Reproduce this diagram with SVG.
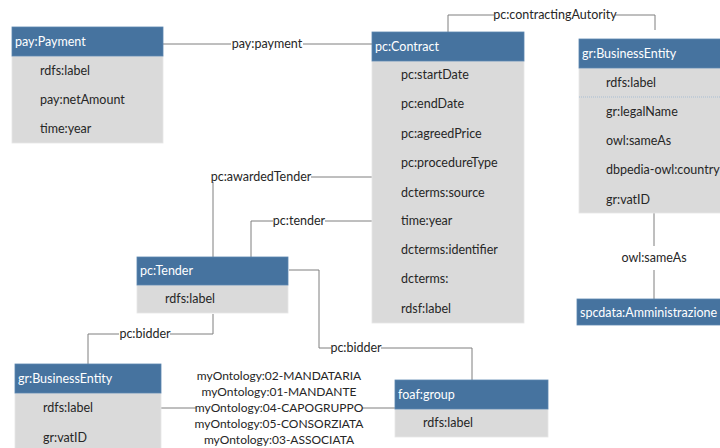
<svg xmlns="http://www.w3.org/2000/svg" width="720" height="448" viewBox="0 0 720 448">
<style>
.hd{fill:#46739f;stroke:#5b86b0;stroke-width:0.8}
.bd{fill:#dadada;stroke:#e6e6e6;stroke-width:0.8}
.ht{font-family:Lato,"Liberation Sans",sans-serif;font-size:12.5px;fill:#ffffff}
.t{font-family:Lato,"Liberation Sans",sans-serif;font-size:12.5px;fill:#262626}
.c{fill:none;stroke:#7f7f7f;stroke-width:1}
.lb{font-family:Lato,"Liberation Sans",sans-serif;font-size:12.5px;fill:#262626}
.st{font-family:Lato,"Liberation Sans",sans-serif;font-size:12px;fill:#262626}
.sep{stroke:#9db6d0;stroke-width:0.8;stroke-dasharray:1 1}
</style>
<rect width="720" height="448" fill="#ffffff"/>
<g id="connectors">
<path class="c" d="M163 44H231M303 44H372"/>
<path class="c" d="M448 32V15H494M615 15H655V30"/>
<path class="c" d="M213 257V182M311 177H372"/>
<path class="c" d="M251 257V221H273M325 221H372"/>
<path class="c" d="M289 270H319V348H331M381 348H472V380"/>
<path class="c" d="M213 314V334H170M119 334H88V364"/>
<path class="c" d="M654 213V246M654 270V299"/>
<path class="c" d="M161 408H196M362 408H395"/>
<text class="lb" x="267" y="48" text-anchor="middle">pay:payment</text>
<text class="lb" x="555" y="19" text-anchor="middle">pc:contractingAutority</text>
<text class="lb" x="261" y="181" text-anchor="middle">pc:awardedTender</text>
<text class="lb" x="299" y="225" text-anchor="middle">pc:tender</text>
<text class="lb" x="356" y="352" text-anchor="middle">pc:bidder</text>
<text class="lb" x="145" y="338" text-anchor="middle">pc:bidder</text>
<text class="lb" x="654" y="262" text-anchor="middle">owl:sameAs</text>
<text class="st" x="279" y="380" text-anchor="middle">myOntology:02-MANDATARIA</text>
<text class="st" x="279" y="396" text-anchor="middle">myOntology:01-MANDANTE</text>
<text class="st" x="279" y="412" text-anchor="middle">myOntology:04-CAPOGRUPPO</text>
<text class="st" x="279" y="428" text-anchor="middle">myOntology:05-CONSORZIATA</text>
<text class="st" x="279" y="444" text-anchor="middle">myOntology:03-ASSOCIATA</text>
</g>
<g id="payment">
<rect class="bd" x="12" y="56" width="151" height="87"/>
<rect class="hd" x="12" y="27" width="151" height="29"/>
<text class="ht" x="15" y="46">pay:Payment</text>
<text class="t" x="40" y="75">rdfs:label</text>
<text class="t" x="40" y="104">pay:netAmount</text>
<text class="t" x="40" y="133">time:year</text>
</g>
<g id="contract">
<rect class="bd" x="372" y="61" width="152" height="262"/>
<rect class="hd" x="372" y="32" width="152" height="29"/>
<text class="ht" x="375" y="51">pc:Contract</text>
<text class="t" x="401" y="79">pc:startDate</text>
<text class="t" x="401" y="108">pc:endDate</text>
<text class="t" x="401" y="138">pc:agreedPrice</text>
<text class="t" x="401" y="167">pc:procedureType</text>
<text class="t" x="401" y="197">dcterms:source</text>
<text class="t" x="401" y="225">time:year</text>
<text class="t" x="401" y="254">dcterms:identifier</text>
<text class="t" x="401" y="283">dcterms:</text>
<text class="t" x="401" y="313">rdsf:label</text>
</g>
<g id="businessEntityRight">
<rect class="bd" x="579" y="68" width="145" height="145"/>
<rect class="hd" x="579" y="39" width="145" height="29"/>
<line class="sep" x1="579" y1="97" x2="720" y2="97"/>
<text class="ht" x="582" y="58">gr:BusinessEntity</text>
<text class="t" x="606" y="87">rdfs:label</text>
<text class="t" x="606" y="116">gr:legalName</text>
<text class="t" x="606" y="145">owl:sameAs</text>
<text class="t" x="606" y="174">dbpedia-owl:country</text>
<text class="t" x="606" y="204">gr:vatID</text>
</g>
<g id="amministrazione">
<rect class="hd" x="577" y="299" width="147" height="26"/>
<text class="ht" x="580" y="317">spcdata:Amministrazione</text>
</g>
<g id="tender">
<rect class="bd" x="137" y="285" width="151" height="28"/>
<rect class="hd" x="137" y="257" width="151" height="28"/>
<text class="ht" x="140" y="275">pc:Tender</text>
<text class="t" x="165" y="303">rdfs:label</text>
</g>
<g id="businessEntityLeft">
<rect class="bd" x="15" y="393" width="146" height="60"/>
<rect class="hd" x="15" y="364" width="146" height="29"/>
<text class="ht" x="18" y="383">gr:BusinessEntity</text>
<text class="t" x="43" y="412">rdfs:label</text>
<text class="t" x="43" y="442">gr:vatID</text>
</g>
<g id="foafGroup">
<rect class="bd" x="395" y="409" width="153" height="28"/>
<rect class="hd" x="395" y="380" width="153" height="29"/>
<text class="ht" x="398" y="399">foaf:group</text>
<text class="t" x="423" y="427">rdfs:label</text>
</g>
</svg>
